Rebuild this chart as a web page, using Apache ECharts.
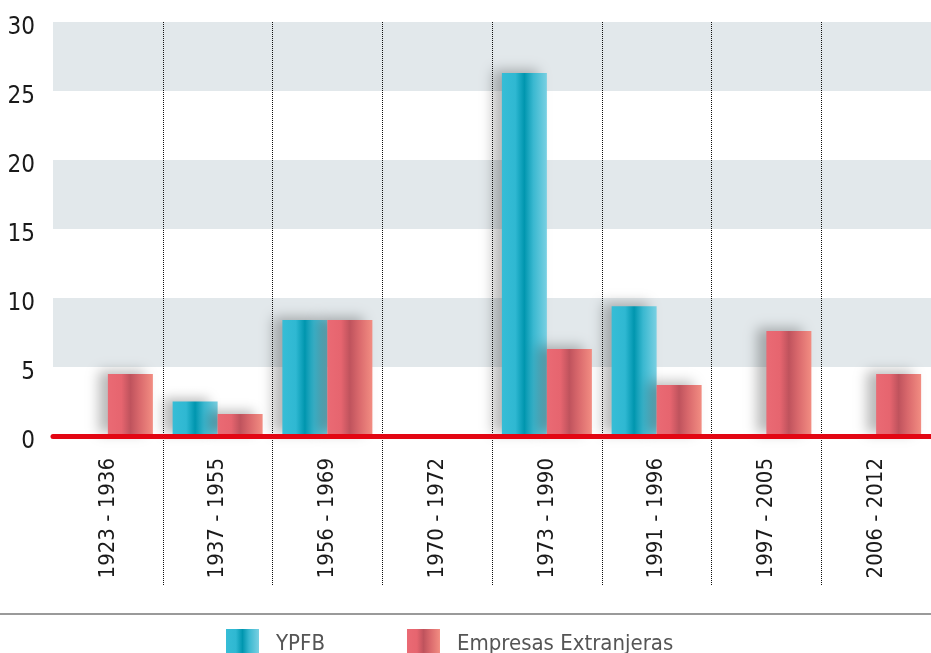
<!DOCTYPE html>
<html>
<head>
<meta charset="utf-8">
<script src="https://cdn.jsdelivr.net/npm/echarts@6/dist/echarts.min.js"></script>
<style>
  html, body { margin: 0; padding: 0; background: #fff; }
  #chart { width: 931px; height: 653px; }
</style>
</head>
<body>
<div id="chart"></div>
<script>
// periodos
const periodos = ['1923 - 1936', '1937 - 1955', '1956 - 1969', '1970 - 1972', '1973 - 1990', '1991 - 1996', '1997 - 2005', '2006 - 2012']
// valores por serie
const ypfb = [0, 2.5, 8.4, 0, 26.3, 9.4, 0, 0]
const extranjeras = [4.5, 1.6, 8.4, 0, 6.3, 3.7, 7.6, 4.5]
const yTicks = [0, 5, 10, 15, 20, 25, 30]

const FONT = '"Liberation Sans Narrow", "DejaVu Sans Condensed", sans-serif'

const chart = echarts.init(document.getElementById('chart'))

// degradados de las barras
const gradTeal = new echarts.graphic.LinearGradient(0, 0, 1, 0, [
  { offset: 0, color: '#36bdd6' },
  { offset: 0.3, color: '#2fb8d2' },
  { offset: 0.5, color: '#0096af' },
  { offset: 0.7, color: '#3ab8d0' },
  { offset: 1, color: '#79d0e2' }
])
const gradRed = new echarts.graphic.LinearGradient(0, 0, 1, 0, [
  { offset: 0, color: '#ea6a74' },
  { offset: 0.3, color: '#e6656f' },
  { offset: 0.5, color: '#bf535d' },
  { offset: 0.7, color: '#d9686c' },
  { offset: 1, color: '#f28d82' }
])

const sombra = {
  shadowColor: 'rgba(0,0,0,0.28)',
  shadowBlur: 12,
  shadowOffsetX: -9,
  shadowOffsetY: -3
}

const puntos = { color: '#111', width: 1, type: [1, 1] }

const option = {
  animation: false,
  textStyle: { fontFamily: FONT },
  grid: [
    { left: 53, right: 0, top: 22, bottom: 217, containLabel: false },
    { left: 53, right: 0, top: 436, height: 149, containLabel: false }
  ],
  legend: {
    left: 226,
    top: 629,
    padding: 0,
    itemWidth: 33,
    itemHeight: 30,
    itemGap: 82,
    icon: 'rect',
    itemStyle: { shadowBlur: 0, shadowOffsetX: 0, shadowOffsetY: 0 },
    textStyle: { fontFamily: FONT, fontSize: 22, color: '#555', padding: [0, 0, 0, 12] },
    data: ['YPFB', 'Empresas Extranjeras']
  },
  xAxis: [
    {
      type: 'category',
      gridIndex: 0,
      data: periodos,
      axisLine: { show: true, lineStyle: { color: '#e30613', width: 5 } },
      axisTick: { show: false },
      axisLabel: {
        rotate: 90,
        margin: 22,
        fontSize: 22,
        color: '#1a1a1a',
        fontFamily: FONT
      },
      splitLine: {
        show: true,
        showMinLine: false,
        showMaxLine: false,
        lineStyle: puntos
      },
      z: 5
    },
    {
      type: 'category',
      gridIndex: 1,
      data: periodos,
      axisLine: { show: false },
      axisTick: { show: false },
      axisLabel: { show: false },
      splitLine: {
        show: true,
        showMinLine: false,
        showMaxLine: false,
        lineStyle: puntos
      }
    }
  ],
  yAxis: [
    {
      type: 'value',
      gridIndex: 0,
      min: yTicks[0],
      max: yTicks[yTicks.length - 1],
      interval: 5,
      axisLine: { show: false },
      axisTick: { show: false },
      axisLabel: {
        margin: 18,
        fontSize: 24,
        color: '#1a1a1a',
        fontFamily: FONT,
        verticalAlign: 'top',
        lineHeight: 12
      },
      splitLine: { show: false },
      splitArea: {
        show: true,
        areaStyle: { color: ['#ffffff', '#e2e8eb'] }
      }
    },
    {
      type: 'value',
      gridIndex: 1,
      show: false
    }
  ],
  series: [
    {
      name: 'YPFB',
      type: 'bar',
      xAxisIndex: 0,
      yAxisIndex: 0,
      data: ypfb,
      barWidth: 45,
      barGap: '0%',
      itemStyle: Object.assign({ color: gradTeal }, sombra)
    },
    {
      name: 'Empresas Extranjeras',
      type: 'bar',
      xAxisIndex: 0,
      yAxisIndex: 0,
      data: extranjeras,
      barWidth: 45,
      barGap: '0%',
      itemStyle: Object.assign({ color: gradRed }, sombra)
    }
  ],
  graphic: [
    {
      type: 'line',
      shape: { x1: 0, y1: 614, x2: 931, y2: 614 },
      style: { stroke: '#9a9a9a', lineWidth: 2 },
      silent: true
    }
  ]
}

chart.setOption(option)
</script>
</body>
</html>
